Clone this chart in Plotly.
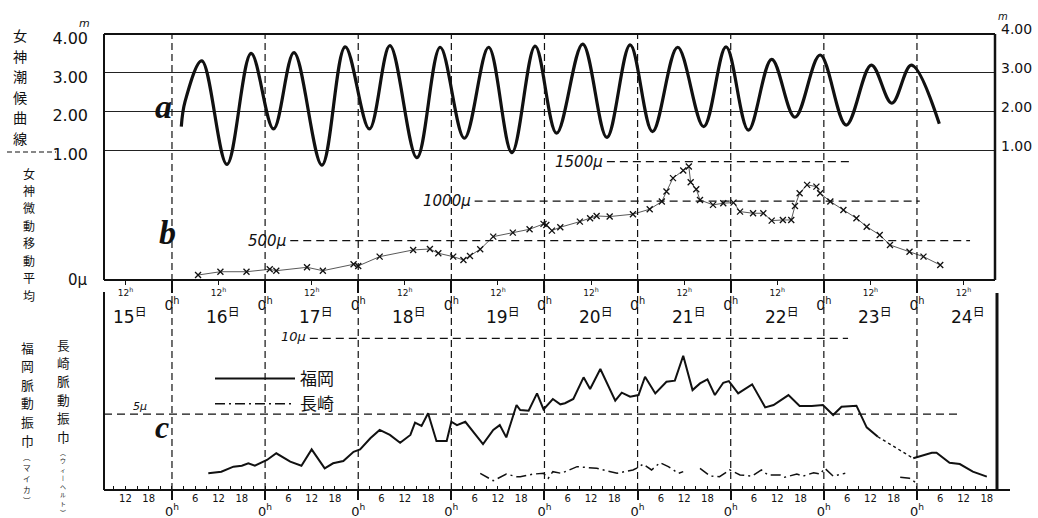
import plotly.graph_objects as go

# ---------------- data ----------------
# a: 女神潮候曲線 (tide height, m) ; time as day-of-month (decimal days)
tide_t = [16.10, 16.14, 16.32, 16.59, 16.85, 17.09, 17.31, 17.61, 17.86, 18.12, 18.34, 18.63,
          18.88, 19.14, 19.40, 19.65, 19.90, 20.13, 20.41, 20.67, 20.92, 21.16, 21.43, 21.71,
          21.95, 22.19, 22.44, 22.69, 22.96, 23.24, 23.51, 23.73, 23.94, 24.24]
tide_h = [1.62, 2.26, 3.31, 0.65, 3.50, 1.56, 3.52, 0.63, 3.67, 1.56, 3.70, 0.82,
          3.66, 1.32, 3.66, 0.95, 3.69, 1.45, 3.74, 1.34, 3.72, 1.49, 3.66, 1.62,
          3.67, 1.53, 3.35, 1.86, 3.46, 1.66, 3.20, 2.22, 3.20, 1.69]

# b: 女神微動移動平均 (μ)
micro_t = [16.28, 16.52, 16.80, 17.05, 17.12, 17.45, 17.62, 17.95, 18.00, 18.23, 18.59, 18.77,
           18.86, 19.02, 19.13, 19.20, 19.31, 19.45, 19.66, 19.84, 19.99, 20.02, 20.08, 20.17,
           20.38, 20.49, 20.56, 20.70, 20.95, 21.13, 21.26, 21.31, 21.38, 21.49, 21.55, 21.57,
           21.63, 21.67, 21.81, 21.92, 22.03, 22.10, 22.24, 22.35, 22.44, 22.56, 22.65, 22.69,
           22.74, 22.82, 22.92, 22.96, 23.07, 23.21, 23.35, 23.46, 23.60, 23.71, 23.92, 24.07,
           24.25]
micro_v = [63, 105, 105, 136, 118, 161, 118, 199, 178, 296, 381, 393,
           339, 296, 254, 305, 390, 550, 600, 643, 711, 698, 626, 669,
           740, 783, 812, 804, 834, 897, 994, 1121, 1291, 1388, 1439, 1240,
           1151, 1015, 952, 973, 981, 867, 846, 846, 753, 761, 761, 939,
           1100, 1206, 1184, 1100, 994, 888, 783, 676, 571, 444, 359, 296,
           190]

# c: 福岡脈動振巾 (μ)
fk_t = [16.39, 16.53, 16.66, 16.75, 16.82, 16.89, 17.02, 17.12, 17.27, 17.39, 17.50, 17.64,
        17.73, 17.84, 17.95, 18.02, 18.13, 18.23, 18.34, 18.45, 18.56, 18.61, 18.68, 18.75,
        18.84, 18.95, 19.00, 19.06, 19.15, 19.25, 19.34, 19.45, 19.52, 19.59, 19.70, 19.74,
        19.83, 19.92, 19.99, 20.09, 20.17, 20.22, 20.31, 20.42, 20.49, 20.60, 20.76, 20.83,
        20.92, 21.01, 21.08, 21.19, 21.31, 21.40, 21.49, 21.59, 21.67, 21.75, 21.83, 21.92,
        21.98, 22.08, 22.23, 22.37, 22.46, 22.62, 22.74, 22.87, 22.99, 23.10, 23.19, 23.35,
        23.46, 23.58]
fk_v = [1.10, 1.21, 1.54, 1.60, 1.76, 1.60, 1.98, 2.42, 1.87, 1.60, 2.68, 1.43,
        1.76, 1.91, 2.52, 2.68, 3.41, 3.96, 3.63, 3.12, 3.63, 4.44, 4.22, 5.06,
        3.23, 3.23, 4.50, 4.28, 4.50, 3.74, 3.03, 3.96, 4.28, 3.47, 5.60, 5.27,
        5.23, 6.37, 5.32, 6.00, 5.65, 5.72, 6.00, 7.43, 6.66, 7.98, 5.89, 6.42,
        6.15, 6.26, 7.47, 6.37, 7.14, 7.21, 8.85, 6.59, 7.03, 7.30, 6.26, 7.07,
        7.18, 6.37, 6.97, 5.45, 5.60, 6.26, 5.54, 5.54, 5.60, 4.94, 5.49, 5.56,
        4.13, 3.51]
fk_dot_t = [23.58, 23.78, 23.96]
fk_dot_v = [3.51, 2.74, 2.09]
fk_tail_t = [23.96, 24.16, 24.21, 24.35, 24.46, 24.60, 24.75]
fk_tail_v = [2.09, 2.46, 2.46, 1.80, 1.71, 1.21, 0.88]

# c: 長崎脈動振巾 (μ), None = gap in record
ng_t = [19.31, 19.45, 19.59, 19.70, 19.74, 19.88, 19.99, 20.04, 20.09, 20.18, 20.35, 20.56,
        20.78, 20.95, 21.01, 21.06, 21.15, 21.24, 21.33, 21.44, 21.49, None,
        21.67, 21.78, 21.88, 21.99, 22.10, 22.23, 22.33, 22.40, 22.53, 22.58, 22.71, 22.78,
        22.89, 22.96, 23.01, 23.10, 23.23, None, 23.82, 23.92, 24.00]
ng_v = [1.10, 0.61, 1.05, 0.88, 0.88, 1.05, 1.10, 0.77, 1.21, 1.10, 1.54, 1.43,
        1.10, 1.32, 1.50, 1.71, 1.32, 1.80, 1.54, 1.10, 1.21, None,
        1.43, 0.92, 0.88, 1.32, 0.99, 0.92, 1.32, 0.99, 0.99, 0.84, 1.05, 0.92,
        1.14, 1.05, 1.43, 0.92, 1.10, None, 0.84, 0.77, 0.44]

# tick / label texts
day_nums = [15, 16, 17, 18, 19, 20, 21, 22, 23, 24]
midnights = [16, 17, 18, 19, 20, 21, 22, 23, 24]
tide_ticks = [1, 2, 3, 4]
tide_ticktext = ["1.00", "2.00", "3.00", "4.00"]
micro_levels = [500, 1000, 1500]
micro_level_text = ["500μ", "1000μ", "1500μ"]
amp_levels = [5, 10]
amp_level_text = ["5μ", "10μ"]

# ---------------- layout helpers ----------------
W, H = 1038, 518
L, R, T, B = 104, 43, 34, 28
PW, PH = W - L - R, H - T - B
XR = [15.27, 24.838]


def px(x):
    return (x - L) / PW


def py(y):
    return (H - B - y) / PH


BLACK = "#111"
NUM_FONT = "DejaVu Sans, Noto Sans CJK JP"
JP_FONT = "Noto Sans CJK JP"

fig = go.Figure()

fig.add_trace(go.Scatter(x=tide_t, y=tide_h, mode="lines", line=dict(color=BLACK, width=3.2, shape="spline", smoothing=1.0),
                         xaxis="x", yaxis="y", showlegend=False, hoverinfo="skip"))
fig.add_trace(go.Scatter(x=micro_t, y=micro_v, mode="lines+markers",
                         line=dict(color=BLACK, width=0.7),
                         marker=dict(symbol="x-thin", size=6, line=dict(width=1.3, color=BLACK)),
                         xaxis="x", yaxis="y2", showlegend=False, hoverinfo="skip"))
fig.add_trace(go.Scatter(x=fk_t, y=fk_v, mode="lines", name="福岡", line=dict(color=BLACK, width=2),
                         xaxis="x", yaxis="y3", hoverinfo="skip"))
fig.add_trace(go.Scatter(x=ng_t, y=ng_v, mode="lines", name="長崎",
                         line=dict(color=BLACK, width=1.5, dash="10px,4px,2px,4px"),
                         xaxis="x", yaxis="y3", hoverinfo="skip"))
fig.add_trace(go.Scatter(x=fk_dot_t, y=fk_dot_v, mode="lines", line=dict(color=BLACK, width=1.4, dash="dot"),
                         xaxis="x", yaxis="y3", showlegend=False, hoverinfo="skip"))
fig.add_trace(go.Scatter(x=fk_tail_t, y=fk_tail_v, mode="lines", line=dict(color=BLACK, width=2),
                         xaxis="x", yaxis="y3", showlegend=False, hoverinfo="skip"))
# empty traces so decoration axes are drawn
for xa, ya in [("x2", "y2"), ("x4", "y2"), ("x5", "y3"), ("x", "y4")]:
    fig.add_trace(go.Scatter(x=[None], y=[None], xaxis=xa, yaxis=ya, showlegend=False, hoverinfo="skip"))

ab_dom = [py(280), 1.0]
c_dom = [0.0, py(293)]
yr_a = [4 - (280 - 34) / 38.9, 4]

six_vals, six_text = [], []
for d in day_nums:
    for h in (6, 12, 18):
        v = d + h / 24
        if XR[0] < v < XR[1]:
            six_vals.append(v)
            six_text.append(str(h))
minor_vals = [15.25 + k * 0.125 for k in range(1, 80) if 15.25 + k * 0.125 < XR[1]]

fig.update_layout(
    width=W, height=H, margin=dict(l=L, r=R, t=T, b=B, autoexpand=False),
    paper_bgcolor="white", plot_bgcolor="white",
    font=dict(family=NUM_FONT, color=BLACK),
    xaxis=dict(domain=[0, 1], range=XR, anchor="y3", showgrid=False, zeroline=False, showline=False,
               automargin=False,
               tickmode="array", tickvals=midnights, ticktext=["0<sup>h</sup>"] * len(midnights),
               ticks="outside", ticklen=9, tickwidth=2, tickcolor=BLACK, tickfont=dict(size=13),
               ticklabelstandoff=0,
               minor=dict(tickmode="array", tickvals=minor_vals, ticks="inside", ticklen=4, tickwidth=1,
                          tickcolor=BLACK, showgrid=False)),
    xaxis5=dict(overlaying="x", anchor="y3", range=XR, showgrid=False, zeroline=False, showline=False,
                automargin=False,
                tickmode="array", tickvals=six_vals, ticktext=six_text, ticks="", tickfont=dict(size=10),
                ticklabelstandoff=1),
    xaxis2=dict(overlaying="x", anchor="y2", range=XR, showgrid=False, zeroline=False, showline=False,
                automargin=False,
                tickmode="array", tickvals=midnights, ticktext=["0<sup>h</sup>"] * len(midnights),
                ticks="outside", ticklen=12, tickwidth=2, tickcolor=BLACK, tickfont=dict(size=14)),
    xaxis4=dict(overlaying="x", anchor="y2", range=XR, showgrid=False, zeroline=False, showline=False,
                automargin=False,
                tickmode="array", tickvals=[d + 0.5 for d in day_nums],
                ticktext=["12<sup>h</sup>"] * len(day_nums),
                ticks="outside", ticklen=4, tickwidth=1, tickcolor=BLACK, tickfont=dict(size=9)),
    yaxis=dict(domain=ab_dom, range=yr_a, showgrid=True, gridcolor="#222", gridwidth=1.2, zeroline=False,
               showline=False, automargin=False, tickmode="array", tickvals=tide_ticks, ticktext=tide_ticktext,
               ticks="", tickfont=dict(size=16), ticklabelstandoff=15, ticklabelshift=4),
    yaxis4=dict(overlaying="y", side="right", range=yr_a, showgrid=False, zeroline=False, showline=False,
                automargin=False,
                tickmode="array", tickvals=tide_ticks, ticktext=tide_ticktext, ticks="",
                tickfont=dict(size=14), ticklabelstandoff=5, ticklabelshift=-5),
    yaxis2=dict(overlaying="y", range=[0, 3118], showgrid=False, zeroline=False, showline=False,
                automargin=False,
                tickmode="array", tickvals=[0], ticktext=["0μ"], ticks="", tickfont=dict(size=15),
                ticklabelstandoff=16),
    yaxis3=dict(domain=c_dom, range=[0, 12.99], showgrid=False, zeroline=False, showline=False,
                automargin=False, showticklabels=False, ticks=""),
    legend=dict(x=px(210), y=py(361), xanchor="left", yanchor="top", bgcolor="rgba(0,0,0,0)",
                font=dict(family=JP_FONT, size=17), itemwidth=80, tracegroupgap=0),
)

shapes = []
# frame
frame = [
    (px(104), py(34), px(995), py(34), 1.8),
    (px(104), py(34), px(104), py(280), 2),
    (px(995), py(34), px(995), py(280), 2.5),
    (px(104), py(280), px(995), py(280), 2),
    (px(104), py(292), px(104), py(490), 2),
    (px(997), py(293), px(997), py(490), 3),
    (px(104), py(490), px(1010), py(490), 2.2),
]
for x0, y0, x1, y1, w in frame:
    shapes.append(dict(type="line", xref="paper", yref="paper", x0=x0, y0=y0, x1=x1, y1=y1,
                       line=dict(color=BLACK, width=w)))
# separator dashes left of 1.00
shapes.append(dict(type="line", xref="paper", yref="paper", x0=px(7), x1=px(56), y0=py(152), y1=py(152),
                   line=dict(color=BLACK, width=1.2, dash="5px,3px")))
# midnight dashed verticals
for d in midnights:
    shapes.append(dict(type="line", xref="x", yref="paper", x0=d, x1=d, y0=0, y1=1,
                       line=dict(color=BLACK, width=1.2, dash="7px,4px")))
# reference levels
micro_span = [(17.27, 24.57), (19.25, 24.03), (20.67, 23.27)]
for lv, (a0, a1) in zip(micro_levels, micro_span):
    shapes.append(dict(type="line", xref="x", yref="y2", x0=a0, x1=a1, y0=lv, y1=lv,
                       line=dict(color=BLACK, width=1.2, dash="8px,5px")))
amp_span = [(15.27, 24.43), (17.48, 23.26)]
for lv, (a0, a1) in zip(amp_levels, amp_span):
    shapes.append(dict(type="line", xref="x", yref="y3", x0=a0, x1=a1, y0=lv, y1=lv,
                       line=dict(color=BLACK, width=1.2, dash="8px,5px")))
fig.update_layout(shapes=shapes)

ann = []
# level labels
for lv, txt, (a0, _) in zip(micro_levels, micro_level_text, micro_span):
    ann.append(dict(x=a0, y=lv, xref="x", yref="y2", text=f"<i>{txt}</i>", showarrow=False,
                    xanchor="right", yanchor="middle", xshift=-2, font=dict(size=15)))
ann.append(dict(x=amp_span[1][0], y=amp_levels[1], xref="x", yref="y3", text=f"<i>{amp_level_text[1]}</i>",
                showarrow=False, xanchor="right", yanchor="middle", xshift=-2, yshift=2, font=dict(size=13)))
ann.append(dict(x=15.66, y=amp_levels[0], xref="x", yref="y3", text=f"<i>{amp_level_text[0]}</i>",
                showarrow=False, xanchor="center", yanchor="bottom", yshift=-1, font=dict(size=11)))
# day labels
for d in day_nums:
    ann.append(dict(x=d + 0.55, y=py(303), xref="x", yref="paper", text=f"{d}<sup>日</sup>", showarrow=False,
                    xanchor="center", yanchor="top", font=dict(size=17)))
# panel letters
for letter, lx, ly, s in [("a", 153, 86, 34), ("b", 157, 232, 34), ("c", 153, 447, 32)]:
    ann.append(dict(x=px(lx), y=py(ly), xref="paper", yref="paper", text=f"<b><i>{letter}</i></b>",
                    showarrow=False, font=dict(family="Liberation Serif", size=s)))
# units
ann.append(dict(x=px(77), y=py(15), xref="paper", yref="paper", text="<i>m</i>", showarrow=False,
                font=dict(size=11)))
ann.append(dict(x=px(1010), y=py(9), xref="paper", yref="paper", text="<i>m</i>", showarrow=False,
                font=dict(size=10)))


# vertical Japanese labels: one character per annotation, sized to its slot
def vcol(chars, x, y0, y1, scale=1.45):
    n = len(chars)
    step = (y1 - y0) / (n - 1)
    size = step / scale
    for i, ch in enumerate(chars):
        ann.append(dict(x=px(x), y=py(y0 + step * i), xref="paper", yref="paper", text=ch, showarrow=False,
                        xanchor="center", yanchor="middle", font=dict(family=JP_FONT, size=size)))


vcol("女神潮候曲線", 20, 35, 138)
vcol("女神微動移動平均", 29, 173, 295)
vcol("福岡脈動振巾", 27, 347, 440)
vcol("︵マイカ︶", 27, 456, 500)
vcol("長崎脈動振巾", 63, 344, 436)
vcol("︵ウィ丨ヘルト︶", 63, 452, 512)

fig.update_layout(annotations=ann)
fig.write_html("out.html")
